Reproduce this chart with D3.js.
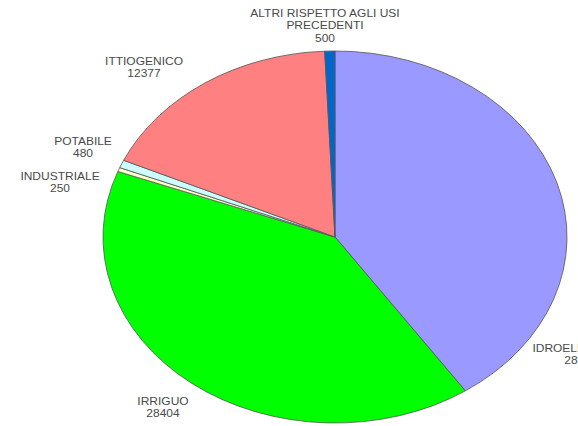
<!DOCTYPE html>
<html>
<head>
<meta charset="utf-8">
<script src="https://cdn.jsdelivr.net/npm/d3@7"></script>
<style>
  body { margin: 0; background: #fff; }
  svg { display: block; }
</style>
</head>
<body>
<svg></svg>
<script>

var width = 578;
var height = 426;

// data, clockwise from 12 o'clock
var categories = ["IDROELETTRICO", "IRRIGUO", "INDUSTRIALE", "POTABILE", "ITTIOGENICO", "ALTRI RISPETTO AGLI USI PRECEDENTI"];
var values = [28600, 28404, 250, 480, 12377, 500];
var colors = ["#9999ff", "#00ff00", "#ffffcc", "#ccffff", "#ff8080", "#0066cc"];

// label text lines (the long one is wrapped)
var labelLines = [
    ["IDROELETTRICO"],
    ["IRRIGUO"],
    ["INDUSTRIALE"],
    ["POTABILE"],
    ["ITTIOGENICO"],
    ["ALTRI RISPETTO AGLI USI", "PRECEDENTI"]
];
// label anchor (center x, first baseline), relative to pie center
var labelOffset = [[246, 115], [-172, 168], [-275, -57], [-252, -92], [-191, -172], [-10, -220]];

var svg = d3.select('svg')
    .attr('width', width)
    .attr('height', height);

var cx = 335, cy = 237;
var ry = 186, rx = 232;

var pie = d3.pie().sort(null).value(function (d) { return d; });
var arcs = pie(values);

var arc = d3.arc().innerRadius(0).outerRadius(ry);

var g = svg.append('g')
    .attr('transform', 'translate(' + cx + ',' + cy + ') scale(' + (rx / ry) + ',1)');

g.selectAll('path')
    .data(arcs)
    .enter()
    .append('path')
    .attr('d', arc)
    .attr('fill', function (d, i) { return colors[i]; })
    .attr('stroke', '#555')
    .attr('stroke-width', 0.8)
    .attr('vector-effect', 'non-scaling-stroke');

var fmt = function (v) { return String(v); };

var labels = svg.selectAll('g.lbl')
    .data(arcs)
    .enter()
    .append('g')
    .attr('class', 'lbl')
    .attr('transform', function (d, i) {
        return 'translate(' + (cx + labelOffset[i][0]) + ',' + (cy + labelOffset[i][1]) + ') scale(1.2,1)';
    });

labels.each(function (d, i) {
    var lines = labelLines[i].concat([fmt(values[i])]);
    d3.select(this).selectAll('text')
        .data(lines)
        .enter()
        .append('text')
        .attr('x', 0)
        .attr('y', function (t, j) { return j * 12.5; })
        .attr('text-anchor', 'middle')
        .attr('font-family', 'Liberation Sans, Arial, sans-serif')
        .attr('font-size', 10)
        .attr('fill', '#4a4a4a')
        .text(function (t) { return t; });
});

</script>
</body>
</html>
